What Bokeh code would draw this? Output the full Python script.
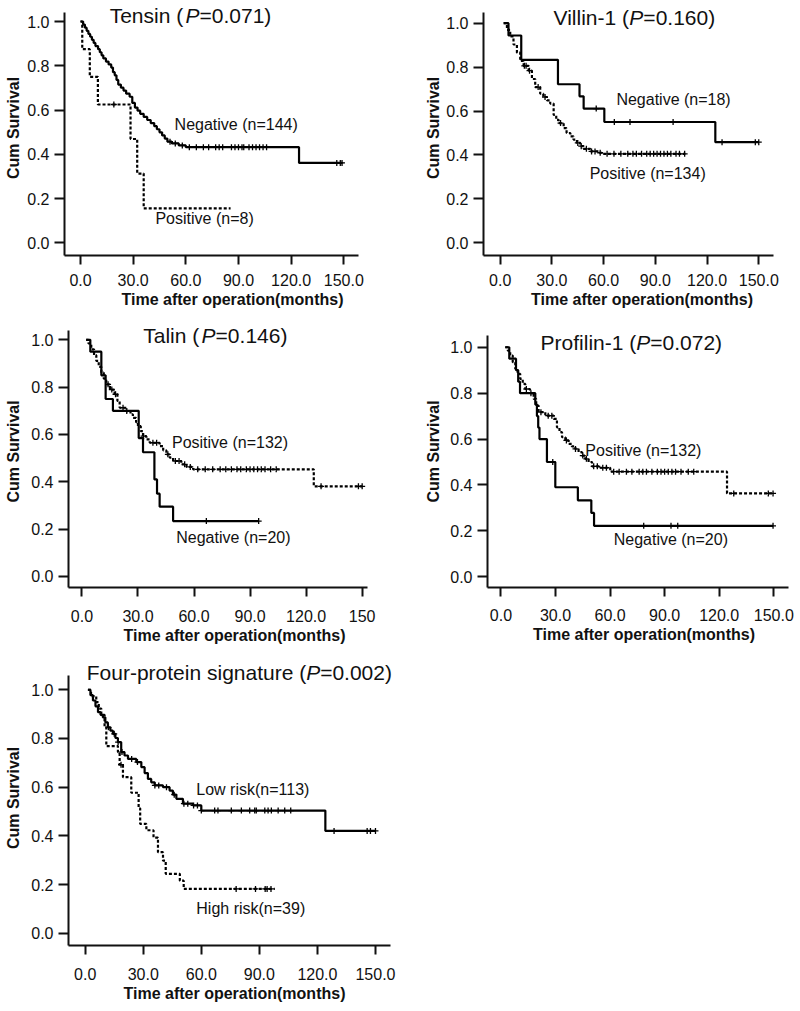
import math
from bokeh.plotting import figure
from bokeh.models import Range1d, FixedTicker, Label
from bokeh.layouts import column, row
from bokeh.embed import file_html
from bokeh.resources import INLINE

# ---------------- data ----------------
x_ticks = [0, 30, 60, 90, 120, 150]
x_tick_labels = ["0.0", "30.0", "60.0", "90.0", "120.0", "150.0"]
x_tick_labels_talin = ["0.0", "30.0", "60.0", "90.0", "120.0", "150"]
y_ticks = [0.0, 0.2, 0.4, 0.6, 0.8, 1.0]
y_tick_labels = ["0.0", "0.2", "0.4", "0.6", "0.8", "1.0"]

panel_names = ["Tensin", "Villin-1", "Talin", "Profilin-1", "Four-protein signature"]
p_values = ["0.071", "0.160", "0.146", "0.072", "0.002"]
x_title = "Time after operation(months)"
y_title = "Cum Survival"

# Tensin
tens_neg_label = "Negative (n=144)"
tens_neg_t = [0, 1.5, 2.5, 3.5, 4.5, 5.5, 6.5, 7.5, 8.5, 10, 11, 12, 13, 14.5, 16, 17.5, 18.5, 19.5, 20.5,
              21.5, 23, 24.5, 26, 28, 29.5, 31, 32.5, 34, 36, 38, 40, 42, 43.5, 45, 46.5, 48, 49.5, 52, 56,
              60, 124.5]
tens_neg_s = [1.0, 0.986, 0.972, 0.958, 0.944, 0.931, 0.917, 0.903, 0.889, 0.875, 0.861, 0.847, 0.833, 0.819,
              0.806, 0.792, 0.771, 0.757, 0.736, 0.715, 0.701, 0.688, 0.674, 0.660, 0.632, 0.611, 0.597, 0.583,
              0.569, 0.555, 0.541, 0.527, 0.513, 0.499, 0.485, 0.471, 0.457, 0.449, 0.440, 0.432, 0.361]
tens_neg_end = 149
tens_neg_cens = [51, 54, 58, 62, 66, 70, 73, 77, 79, 81, 86, 88, 90, 92, 93, 96, 98, 100, 102, 104, 106,
                 146, 148, 149]
tens_pos_label = "Positive (n=8)"
tens_pos_t = [0, 1, 5.3, 9.9, 28.5, 32.3, 36]
tens_pos_s = [1.0, 0.875, 0.75, 0.625, 0.469, 0.313, 0.156]
tens_pos_end = 85.5
tens_pos_cens = [19]

# Villin-1
vill_neg_label = "Negative (n=18)"
vill_neg_t = [2, 4.8, 12.2, 33.5, 46, 48.4, 60.4, 124.8]
vill_neg_s = [1.0, 0.944, 0.833, 0.722, 0.667, 0.611, 0.550, 0.458]
vill_neg_end = 150
vill_neg_cens = [55.7, 66.2, 75.3, 100.3, 128.7, 148, 150]
vill_pos_label = "Positive (n=134)"
vill_pos_t = [2, 3.9, 5.8, 7.7, 9.7, 11.6, 13.6, 16.5, 18.4, 20.3, 23.2, 25, 27.1, 29, 31, 32.5, 33.9, 36.8,
              38.5, 40.7, 42.5, 44.5, 46.5, 48.4, 52.3, 57, 60]
vill_pos_s = [1.0, 0.970, 0.940, 0.903, 0.866, 0.828, 0.806, 0.784, 0.746, 0.709, 0.679, 0.664, 0.649, 0.634,
              0.582, 0.560, 0.545, 0.522, 0.500, 0.485, 0.470, 0.455, 0.440, 0.428, 0.416, 0.410, 0.405]
vill_pos_end = 107.4
vill_pos_cens = [14, 15, 17, 22, 26, 35, 45, 47, 50, 53, 55, 58, 62, 66, 70, 74, 77, 79, 82, 85, 87, 89, 91,
                 93, 95, 97, 99, 102, 104, 107]

# Talin
tal_pos_label = "Positive (n=132)"
tal_pos_t = [2.3, 3.5, 5, 6.5, 7.7, 9, 10.4, 11.7, 13, 15, 17.5, 19, 20.2, 23.8, 26, 27.3, 29, 30, 31.5, 32.7,
             34.5, 36.3, 41.6, 43.5, 45.2, 47, 48.8, 53.2, 56, 59.5, 124.1]
tal_pos_s = [1.0, 0.985, 0.96, 0.935, 0.911, 0.886, 0.861, 0.836, 0.812, 0.790, 0.770, 0.742, 0.713, 0.699,
             0.685, 0.670, 0.652, 0.635, 0.614, 0.593, 0.579, 0.565, 0.551, 0.533, 0.516, 0.502, 0.488, 0.474,
             0.463, 0.453, 0.381]
tal_pos_end = 150
tal_pos_cens = [14, 16, 18, 22, 24, 33, 38, 40, 46, 50, 52, 55, 58, 62, 66, 70, 74, 77, 80, 83, 85, 88, 90,
                92, 94, 96, 98, 101, 104, 128, 148, 150]
tal_neg_label = "Negative (n=20)"
tal_neg_t = [2.3, 4.5, 10.4, 12.7, 16.6, 30.4, 32.7, 38.8, 40.2, 41.6, 48.8]
tal_neg_s = [1.0, 0.95, 0.85, 0.75, 0.70, 0.585, 0.525, 0.41, 0.35, 0.295, 0.234]
tal_neg_end = 94.6
tal_neg_cens = [66.6, 94.6]

# Profilin-1
prof_pos_label = "Positive (n=132)"
prof_pos_t = [2.4, 3.8, 5.1, 6.5, 7.9, 9.2, 10.6, 12, 13.4, 16, 18, 19.4, 20.7, 24.4, 29, 30.8, 32.2, 33.6,
              35.4, 37.2, 39, 40.9, 42.7, 44.6, 46.4, 48.2, 50.1, 54.6, 60.1, 124.3]
prof_pos_s = [1.0, 0.985, 0.964, 0.935, 0.906, 0.884, 0.862, 0.840, 0.818, 0.800, 0.775, 0.746, 0.717, 0.702,
              0.688, 0.651, 0.630, 0.608, 0.594, 0.579, 0.568, 0.557, 0.543, 0.528, 0.514, 0.500, 0.481, 0.475,
              0.458, 0.363]
prof_pos_end = 149.6
prof_pos_cens = [14, 16.5, 22, 26, 28, 36, 41, 45, 47, 51, 53, 56, 58, 62, 65, 69, 72, 76, 78, 80, 83, 86, 88,
                 90, 92, 94, 96, 99, 103, 106, 128, 147, 149.6]
prof_neg_label = "Negative (n=20)"
prof_neg_t = [2.4, 4.6, 8.3, 9.5, 10.5, 18.9, 19.8, 20.5, 21.2, 25.3, 29.9, 42.3, 49.7, 51.2]
prof_neg_s = [1.0, 0.95, 0.90, 0.85, 0.80, 0.75, 0.70, 0.65, 0.60, 0.50, 0.39, 0.333, 0.278, 0.222]
prof_neg_end = 149.6
prof_neg_cens = [28.5, 78.5, 93.5, 97.2, 149.6]

# Four-protein signature
low_label = "Low risk(n=113)"
low_t = [1.4, 2.7, 4, 5.3, 6.6, 7.9, 9.1, 10.4, 11.7, 13, 14.3, 15.6, 16.9, 18.6, 20.3, 22.1, 26.4, 29, 30.7,
         32.4, 34.1, 35.9, 40.2, 43.6, 45.3, 47.1, 50.5, 55.7, 60, 124.1]
low_s = [1.0, 0.978, 0.956, 0.932, 0.908, 0.897, 0.887, 0.866, 0.846, 0.832, 0.819, 0.802, 0.785, 0.744, 0.730,
         0.716, 0.703, 0.682, 0.658, 0.634, 0.620, 0.607, 0.600, 0.586, 0.569, 0.552, 0.532, 0.525, 0.504, 0.420]
low_end = 150
low_cens = [12, 15, 17, 19, 24, 27, 36, 38, 42, 46, 51, 53, 56, 58, 60, 66.9, 68.6, 75.5, 80.7, 85, 87.6, 88.4,
            92.8, 94.5, 96.2, 99.7, 103.1, 106.2, 128.6, 145.7, 147.4, 150]
high_label = "High risk(n=39)"
high_t = [1.4, 3, 5.7, 7, 8.3, 10, 10.9, 16.9, 17.8, 19.5, 23.8, 27.6, 28.4, 31.6, 35.3, 37.6, 40.2, 41.6,
          48.9, 50.9]
high_s = [1.0, 0.974, 0.949, 0.923, 0.897, 0.846, 0.769, 0.744, 0.692, 0.641, 0.577, 0.513, 0.449, 0.423,
          0.393, 0.333, 0.298, 0.244, 0.216, 0.182]
high_end = 98
high_cens = [18.5, 78, 88, 93, 94, 96]

# ---------------- layout / styling ----------------
FONT = "Liberation Sans"

GEOM = [
    dict(box=(0, 0, 400, 315), axL=64, axR=358, axB=255, axT=12, x0=80, x150=343.3, y1=21, y0=242.3,
         tc=(190, 15), xls=9, yals=2),
    dict(box=(400, 0, 400, 315), axL=483.3, axR=773, axB=255, axT=12, x0=500, x150=758.3, y1=22.7, y0=242.3,
         tc=(634, 17), xls=9, yals=1),
    dict(box=(0, 315, 400, 335), axL=68.3, axR=366.7, axB=586.7, axT=330, x0=81.7, x150=361.7, y1=339.3,
         y0=575.7, tc=(215, 335), xls=13, yals=6),
    dict(box=(400, 315, 400, 335), axL=487.3, axR=788, axB=586.7, axT=335, x0=500.7, x150=773.3, y1=346.7,
         y0=576, tc=(631, 342), xls=12, yals=5),
    dict(box=(0, 650, 400, 360), axL=68.3, axR=390, axB=945, axT=675, x0=85, x150=375, y1=689.3, y0=932.7,
         tc=(239, 672), xls=13, yals=6),
]

SERIES = [
    [(tens_pos_t, tens_pos_s, tens_pos_end, tens_pos_cens, True, tens_pos_label, (42.7, 0.108)),
     (tens_neg_t, tens_neg_s, tens_neg_end, tens_neg_cens, False, tens_neg_label, (53.6, 0.533))],
    [(vill_pos_t, vill_pos_s, vill_pos_end, vill_pos_cens, True, vill_pos_label, (51.9, 0.314)),
     (vill_neg_t, vill_neg_s, vill_neg_end, vill_neg_cens, False, vill_neg_label, (67.4, 0.652))],
    [(tal_pos_t, tal_pos_s, tal_pos_end, tal_pos_cens, True, tal_pos_label, (48.2, 0.567)),
     (tal_neg_t, tal_neg_s, tal_neg_end, tal_neg_cens, False, tal_neg_label, (50.5, 0.165))],
    [(prof_pos_t, prof_pos_s, prof_pos_end, prof_pos_cens, True, prof_pos_label, (46.4, 0.552)),
     (prof_neg_t, prof_neg_s, prof_neg_end, prof_neg_cens, False, prof_neg_label, (62.0, 0.164))],
    [(high_t, high_s, high_end, high_cens, True, high_label, (57.4, 0.103)),
     (low_t, low_s, low_end, low_cens, False, low_label, (57.4, 0.589))],
]
XLABELS = [x_tick_labels, x_tick_labels, x_tick_labels_talin, x_tick_labels, x_tick_labels]

AW = {' ': 278, '(': 333, ')': 333, '-': 333, '.': 278, '=': 584, 'F': 611, 'P': 667, 'T': 611, 'V': 667,
      'a': 556, 'e': 556, 'g': 556, 'i': 222, 'l': 222, 'n': 556, 'o': 556, 'r': 333, 's': 500, 't': 278,
      'u': 556, 'f': 278, 'p': 556}


def tw(s, size):
    return sum(AW.get(c, 556) for c in s) * size / 1000.0


def surv_at(ts, ss, time):
    v = ss[0]
    for t, s in zip(ts, ss):
        if t <= time:
            v = s
    return v


def make_panel(i):
    g = GEOM[i]
    fx, fy, fw, fh = g["box"]
    L = g["axL"] - fx
    B = g["axB"] - fy
    mbl = int(round(L))
    mbb = fh - int(round(B))
    xspan = g["x150"] - g["x0"]
    yspan = g["y0"] - g["y1"]
    x_start = (g["axL"] - g["x0"]) / xspan * 150
    x_end = (fx + fw - g["x0"]) / xspan * 150
    x_axis_right = (g["axR"] - g["x0"]) / xspan * 150
    y_start = -(g["axB"] - g["y0"]) / yspan
    y_end = (g["y0"] - fy) / yspan
    y_axis_top = (g["y0"] - g["axT"]) / yspan

    p = figure(width=fw, height=fh, x_range=Range1d(x_start, x_end), y_range=Range1d(y_start, y_end),
               min_border_left=mbl, min_border_right=0, min_border_top=0, min_border_bottom=mbb,
               toolbar_location=None, output_backend="svg", title=None)
    p.outline_line_color = None
    p.xgrid.visible = False
    p.ygrid.visible = False
    p.background_fill_color = "white"
    p.border_fill_color = "white"

    for ax, ticks, labels in ((p.xaxis[0], x_ticks, XLABELS[i]), (p.yaxis[0], y_ticks, y_tick_labels)):
        ax.ticker = FixedTicker(ticks=ticks)
        ax.major_label_overrides = {t: l for t, l in zip(ticks, labels)}
        ax.axis_line_width = 2
        ax.axis_line_color = "#111111"
        ax.major_tick_line_width = 2
        ax.major_tick_line_color = "#111111"
        ax.major_tick_in = 0
        ax.minor_tick_in = 0
        ax.minor_tick_out = 0
        ax.major_label_text_font = FONT
        ax.major_label_text_font_size = "16px"
        ax.major_label_text_color = "#111111"
        ax.axis_label_text_font = FONT
        ax.axis_label_text_font_size = "16px"
        ax.axis_label_text_font_style = "bold"
        ax.axis_label_text_color = "#111111"

    xa = p.xaxis[0]
    xa.axis_label = x_title
    xa.major_tick_out = 9
    xa.major_label_standoff = g["xls"]
    xa.axis_label_standoff = 2
    xa.bounds = (x_start, x_axis_right)
    ya = p.yaxis[0]
    ya.axis_label = y_title
    ya.major_tick_out = 10
    ya.major_label_standoff = 5
    ya.axis_label_standoff = g["yals"]
    ya.bounds = (y_start, y_axis_top)

    for ts, ss, end, cens, dashed, lab, lpos in SERIES[i]:
        xs = list(ts) + [end]
        ys = list(ss) + [ss[-1]]
        p.step(xs, ys, mode="after", line_color="black", line_width=2.2,
               line_dash="3 2" if dashed else "solid")
        cy = [surv_at(ts, ss, c) for c in cens]
        p.scatter(cens, cy, marker="cross", size=6, line_color="black", line_width=1.3)
        p.add_layout(Label(x=lpos[0], y=lpos[1], text=lab, text_font=FONT, text_font_size="16px",
                           text_color="#111111", text_baseline="middle", text_align="left"))

    # title made of three pieces (italic P)
    tx = (g["tc"][0] - g["x0"]) / xspan * 150
    ty = (g["y0"] - g["tc"][1]) / yspan
    parts = [(panel_names[i] + " (", "normal"), ("P", "italic"), ("=" + p_values[i] + ")", "normal")]
    size = 21
    total = sum(tw(t, size) for t, _ in parts)
    off = -total / 2.0
    for t, st in parts:
        p.add_layout(Label(x=tx, y=ty, x_offset=off, text=t, text_font=FONT, text_font_size="%dpx" % size,
                           text_font_style=st, text_color="#111111", text_baseline="middle",
                           text_align="left"))
        off += tw(t, size)
    return p


panels = [make_panel(i) for i in range(5)]
layout = column(row(panels[0], panels[1]), row(panels[2], panels[3]), panels[4])

open("out.html", "w").write(file_html(layout, INLINE))
